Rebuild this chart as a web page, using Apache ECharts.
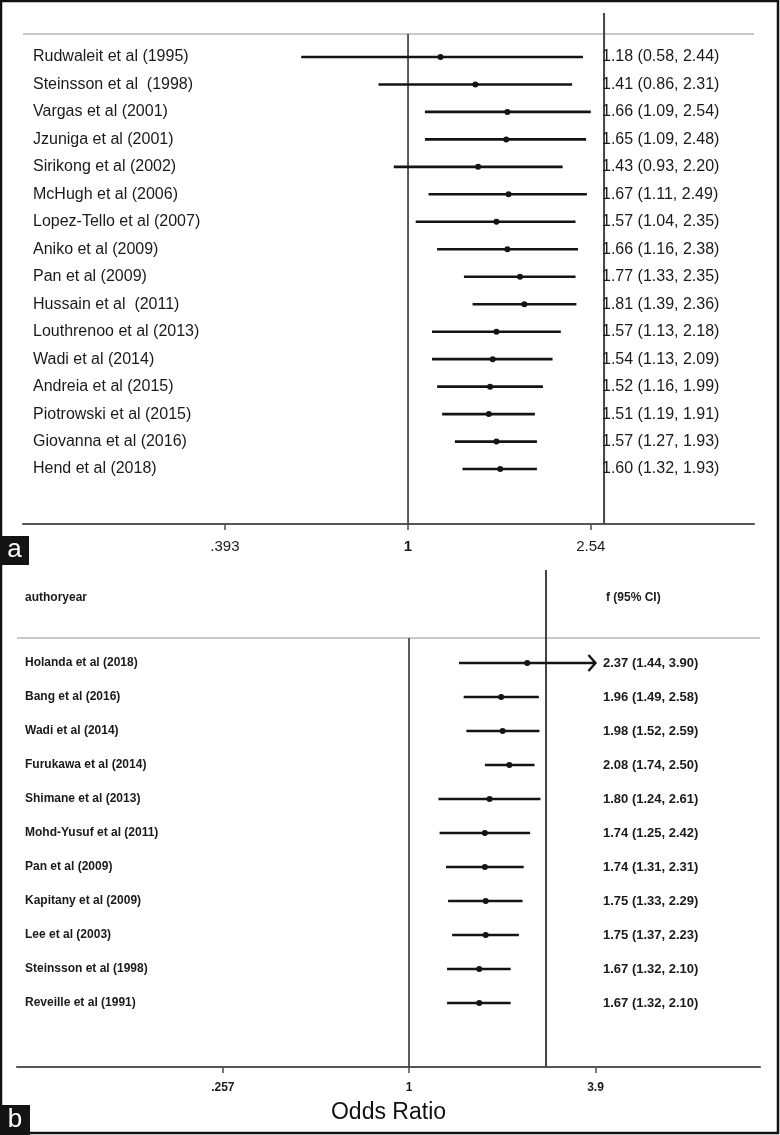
<!DOCTYPE html>
<html><head><meta charset="utf-8">
<script src="https://cdn.jsdelivr.net/npm/echarts@6/dist/echarts.min.js"></script>
<style>html,body{margin:0;padding:0;background:#fff}#c{width:780px;height:1135px}</style>
</head><body><div id="c"></div>
<script>
// ---------- DATA ----------
const studiesA = ["Rudwaleit et al (1995)", "Steinsson et al  (1998)", "Vargas et al (2001)", "Jzuniga et al (2001)",
  "Sirikong et al (2002)", "McHugh et al (2006)", "Lopez-Tello et al (2007)", "Aniko et al (2009)", "Pan et al (2009)",
  "Hussain et al  (2011)", "Louthrenoo et al (2013)", "Wadi et al (2014)", "Andreia et al (2015)",
  "Piotrowski et al (2015)", "Giovanna et al (2016)", "Hend et al (2018)"];
const orA = [1.18, 1.41, 1.66, 1.65, 1.43, 1.67, 1.57, 1.66, 1.77, 1.81, 1.57, 1.54, 1.52, 1.51, 1.57, 1.60];
const loA = [0.58, 0.86, 1.09, 1.09, 0.93, 1.11, 1.04, 1.16, 1.33, 1.39, 1.13, 1.13, 1.16, 1.19, 1.27, 1.32];
const hiA = [2.44, 2.31, 2.54, 2.48, 2.20, 2.49, 2.35, 2.38, 2.35, 2.36, 2.18, 2.09, 1.99, 1.91, 1.93, 1.93];
const truncatedA = [];
const tickValuesA = [0.393, 1, 2.54];
const tickLabelsA = [".393", "1", "2.54"];

const studiesB = ["Holanda et al (2018)", "Bang et al (2016)", "Wadi et al (2014)", "Furukawa et al (2014)",
  "Shimane et al (2013)", "Mohd-Yusuf et al (2011)", "Pan et al (2009)", "Kapitany et al (2009)",
  "Lee et al (2003)", "Steinsson et al (1998)", "Reveille et al (1991)"];
const orB = [2.37, 1.96, 1.98, 2.08, 1.80, 1.74, 1.74, 1.75, 1.75, 1.67, 1.67];
const loB = [1.44, 1.49, 1.52, 1.74, 1.24, 1.25, 1.31, 1.33, 1.37, 1.32, 1.32];
const hiB = [3.90, 2.58, 2.59, 2.50, 2.61, 2.42, 2.31, 2.29, 2.23, 2.10, 2.10];
const truncatedB = ["Holanda et al (2018)"];
const tickValuesB = [0.257, 1, 3.9];
const tickLabelsB = [".257", "1", "3.9"];
const headerB = ["authoryear", "f (95% CI)"];
const axisTitleB = "Odds Ratio";
const panelLetters = ["a", "b"];
const nullValue = 1;
const dividerValue = 2.718;

// ---------- LAYOUT / STYLE ----------
const FONT = "'Liberation Sans', Arial, Helvetica, sans-serif";
const INK = "#141414";
const TXT = "#1a1a1a";
const P = [
  { left: 23, right: 26, top: 13, bottom: 611, xMin: 0.1403, xMax: 5.84, yMin: -1.6, yMax: 17, greyRow: -0.84,
    labelDx: 10, textDx: 579, fontSize: 16, fontWeight: "normal", tickFont: 15, tickBold: false, ciWidth: 2.6, dot: 3 },
  { left: 17, right: 20, top: 570, bottom: 68, xMin: 0.0572, xMax: 12.96, yMin: -2.735, yMax: 11.88, greyRow: -0.735,
    labelDx: 8, textDx: 586, fontSize: 12, fontWeight: "bold", tickFont: 12, tickBold: true, ciWidth: 2.6, dot: 3 }
];

function fmt2(v) { return v.toFixed(2); }

function renderer(cfg, studies, or, lo, hi, truncated) {
  return function (params, api) {
    const i = params.dataIndex;
    const row = api.value(3);
    const pLo = api.coord([api.value(0), row]);
    const pHi = api.coord([api.value(1), row]);
    const pE = api.coord([api.value(2), row]);
    const y = pE[1];
    const kids = [
      { type: "line", shape: { x1: pLo[0], y1: y, x2: pHi[0], y2: y }, style: { stroke: INK, lineWidth: cfg.ciWidth } },
      { type: "circle", shape: { cx: pE[0], cy: y, r: cfg.dot }, style: { fill: INK } },
      { type: "text", x: cfg.left + cfg.labelDx, y: y,
        style: { text: studies[i], fill: TXT, font: cfg.fontWeight + " " + cfg.fontSize + "px " + FONT, verticalAlign: "middle", align: "left" } },
      { type: "text", x: cfg.left + cfg.textDx, y: y,
        style: { text: fmt2(or[i]) + " (" + fmt2(lo[i]) + ", " + fmt2(hi[i]) + ")", fill: TXT,
          font: cfg.fontWeight + " " + (cfg.fontSize + (cfg.fontWeight === "bold" ? 1 : 0)) + "px " + FONT, verticalAlign: "middle", align: "left" } }
    ];
    if (truncated.indexOf(studies[i]) >= 0) {
      kids.push({ type: "polyline", shape: { points: [[pHi[0] - 7, y - 8], [pHi[0], y], [pHi[0] - 7, y + 8]] },
        style: { stroke: INK, lineWidth: 2.4, fill: null } });
    }
    return { type: "group", children: kids };
  };
}

function tickFormatter(vals, labels) {
  return function (v) {
    for (let j = 0; j < vals.length; j++) {
      if (Math.abs(v - vals[j]) / vals[j] < 1e-3) return labels[j] === "1" ? "{b|1}" : labels[j];
    }
    return "";
  };
}

const grids = P.map(c => ({ left: c.left, right: c.right, top: c.top, bottom: c.bottom }));
const ticks = [[tickValuesA, tickLabelsA], [tickValuesB, tickLabelsB]];
const xAxes = P.map((c, k) => ({
  type: "log", gridIndex: k, min: c.xMin, max: c.xMax,
  axisLine: { show: true, onZero: false, lineStyle: { color: "#555", width: 2.2 } },
  axisTick: { show: true, customValues: ticks[k][0], length: 6, lineStyle: { color: "#555", width: 1.6 } },
  axisLabel: { customValues: ticks[k][0], formatter: tickFormatter(ticks[k][0], ticks[k][1]), margin: 15,
    fontSize: c.tickFont, fontFamily: FONT, color: TXT, fontWeight: c.tickBold ? "bold" : "normal",
    rich: { b: { fontWeight: "bold", fontSize: c.tickFont, fontFamily: FONT, color: TXT } } },
  splitLine: { show: false }, minorTick: { show: false }, minorSplitLine: { show: false },
  name: k === 1 ? axisTitleB : "", nameLocation: "middle", nameGap: 34,
  nameTextStyle: { fontSize: 23, fontFamily: FONT, color: "#111" }
}));
const yAxes = P.map((c, k) => ({ type: "value", gridIndex: k, inverse: true, min: c.yMin, max: c.yMax, show: false }));

const panels = [[studiesA, orA, loA, hiA, truncatedA], [studiesB, orB, loB, hiB, truncatedB]];
const series = [];
P.forEach((c, k) => {
  const [st, or, lo, hi, tr] = panels[k];
  series.push({ type: "line", xAxisIndex: k, yAxisIndex: k, silent: true, symbol: "none", z: 1,
    data: [[c.xMin, c.greyRow], [c.xMax, c.greyRow]], lineStyle: { color: "#c9c9c9", width: 2 } });
  series.push({ type: "line", xAxisIndex: k, yAxisIndex: k, silent: true, symbol: "none", z: 2,
    data: [[nullValue, c.greyRow], [nullValue, c.yMax]], lineStyle: { color: "#333", width: 1.6 } });
  series.push({ type: "line", xAxisIndex: k, yAxisIndex: k, silent: true, symbol: "none", z: 2,
    data: [[dividerValue, c.yMin], [dividerValue, c.yMax]], lineStyle: { color: "#444", width: 2 } });
  series.push({ type: "custom", xAxisIndex: k, yAxisIndex: k, clip: false, silent: true, z: 5,
    renderItem: renderer(c, st, or, lo, hi, tr),
    encode: { x: [0, 1, 2], y: 3 },
    data: st.map((s, i) => [lo[i], hi[i], or[i], i]) });
});

const graphic = [
  { type: "rect", shape: { x: 1, y: 1, width: 777, height: 1132 }, style: { fill: null, stroke: "#111", lineWidth: 2.5 }, z: 100 },
  { type: "rect", shape: { x: 0, y: 536, width: 29, height: 29 }, style: { fill: "#141414" }, z: 101 },
  { type: "text", x: 14.5, y: 550, style: { text: panelLetters[0], fill: "#fff", font: "26px " + FONT, align: "center", verticalAlign: "middle" }, z: 102 },
  { type: "rect", shape: { x: 0, y: 1105, width: 30, height: 30 }, style: { fill: "#141414" }, z: 101 },
  { type: "text", x: 15, y: 1120, style: { text: panelLetters[1], fill: "#fff", font: "26px " + FONT, align: "center", verticalAlign: "middle" }, z: 102 },
  { type: "text", x: 25, y: 598, style: { text: headerB[0], fill: TXT, font: "bold 12px " + FONT, verticalAlign: "middle" } },
  { type: "text", x: 606, y: 598, style: { text: headerB[1], fill: TXT, font: "bold 12px " + FONT, verticalAlign: "middle" } }
];

const chart = echarts.init(document.getElementById("c"), null, { renderer: "canvas" });
chart.setOption({ animation: false, backgroundColor: "#fff", grid: grids, xAxis: xAxes, yAxis: yAxes, series, graphic });
</script></body></html>
